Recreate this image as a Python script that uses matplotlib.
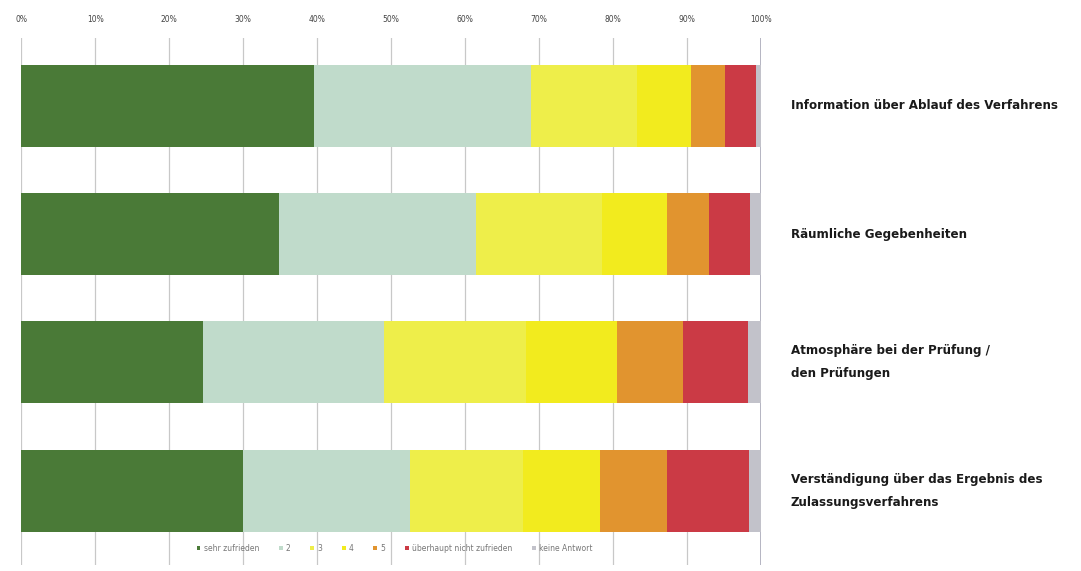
import matplotlib
matplotlib.use("Agg")
import matplotlib.pyplot as plt
import numpy as np

# questions (top to bottom)
categories = ["Information über Ablauf des Verfahrens",
              "Räumliche Gegebenheiten",
              "Atmosphäre bei der Prüfung /\nden Prüfungen",
              "Verständigung über das Ergebnis des\nZulassungsverfahrens"]
answers = ["sehr zufrieden", "2", "3", "4", "5", "überhaupt nicht zufrieden", "keine Antwort"]
# share of answers in percent, one list per answer
sehr_zufrieden = [39.5, 34.8, 24.5, 29.9]
note_2 = [29.4, 26.7, 24.5, 22.7]
note_3 = [14.3, 17.0, 19.2, 15.2]
note_4 = [7.4, 8.8, 12.3, 10.4]
note_5 = [4.6, 5.7, 9.0, 9.1]
nicht_zufrieden = [4.1, 5.5, 8.7, 11.1]
keine_antwort = [0.7, 1.5, 1.8, 1.6]
ticks = [0, 10, 20, 30, 40, 50, 60, 70, 80, 90, 100]
tick_labels = ["0%", "10%", "20%", "30%", "40%", "50%", "60%", "70%", "80%", "90%", "100%"]

colors = ["#4a7a37", "#c0dbcb", "#eeee4a", "#f2eb1e", "#e1942f", "#cb3a45", "#c2c2ca"]
series = [sehr_zufrieden, note_2, note_3, note_4, note_5, nicht_zufrieden, keine_antwort]

fig = plt.figure(figsize=(10.81, 5.71), dpi=100)
ax = fig.add_axes([21.4 / 1081, 1 - 565 / 571, (761 - 21.4) / 1081, (565 - 38) / 571])

y = np.arange(len(categories))
left = np.zeros(len(categories))
for vals, col, lab in zip(series, colors, answers):
    ax.barh(y, vals, left=left, height=0.64, color=col, label=lab, zorder=2)
    left = left + np.array(vals)

# vertical grid lines
for t in ticks:
    c = "#a8a8b8" if t == 100 else "#c8c8c8"
    ax.axvline(t, color=c, lw=1.2 if t == 100 else 0.9, zorder=1)

ax.set_xlim(0, 100)
ax.set_ylim(3.58, -0.53)
ax.xaxis.tick_top()
ax.set_xticks(ticks)
ax.set_xticklabels(tick_labels, fontsize=5.5, color="#444444")
ax.tick_params(axis="x", length=0, pad=10)
ax.set_yticks([])
for s in ax.spines.values():
    s.set_visible(False)

# labels on the right
for i, cat in enumerate(categories):
    ax.text(104, i, cat, fontsize=8.6, fontweight="bold", color="#1a1a1a",
            ha="left", va="center", linespacing=2.0, clip_on=False)

fig.legend(loc="center", bbox_to_anchor=(0.365, 0.04), ncol=7, frameon=False,
           fontsize=5.5, labelcolor="#777777", handlelength=0.5, handleheight=0.5,
           handletextpad=0.4, columnspacing=2.6)

plt.savefig("out.png", dpi=100)
